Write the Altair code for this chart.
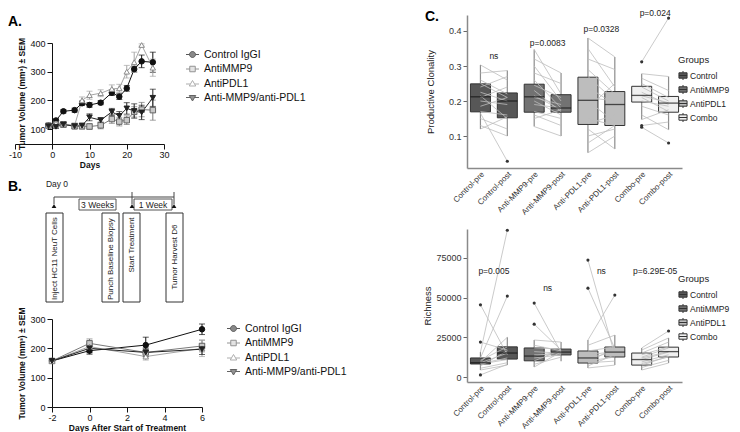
import altair as alt
import pandas as pd

FONT = "Liberation Sans"
W, H = 724, 424  # drawing canvas (page minus the 8px margin)

# ---------------- Panel A / B data ----------------
SERIES = ["Control IgGI", "AntiMMP9", "AntiPDL1", "Anti-MMP9/anti-PDL1"]

days_a = [-1, 1, 3, 6, 8, 10, 13, 16, 18, 20, 22, 24, 27]
a_control = [112, 130, 162, 166, 190, 184, 192, 227, 213, 242, 309, 336, 333]
a_control_sem = [5, 6, 6, 7, 8, 8, 7, 10, 10, 10, 10, 22, 35]
a_mmp9 = [112, 116, 116, 110, 110, 109, 113, 135, 126, 131, 160, 168, 166]
a_mmp9_sem = [5, 8, 10, 10, 10, 10, 12, 15, 15, 15, 18, 25, 35]
a_pdl1 = [112, 120, 118, 113, 200, 218, 225, 240, 242, 300, 333, 393, 314]
a_pdl1_sem = [5, 6, 8, 8, 12, 14, 12, 14, 14, 22, 35, 4, 30]
a_combo = [110, 108, 116, 110, 112, 141, 131, 160, 146, 172, 163, 158, 209]
a_combo_sem = [5, 6, 8, 8, 8, 12, 8, 12, 15, 20, 25, 25, 30]

days_b = [-2, 0, 3, 6]
b_control = [157, 192, 211, 265]
b_control_sem = [5, 12, 27, 18]
b_mmp9 = [157, 217, 186, 208]
b_mmp9_sem = [5, 15, 12, 20]
b_pdl1 = [157, 206, 172, 200]
b_pdl1_sem = [5, 20, 12, 28]
b_combo = [157, 200, 186, 197]
b_combo_sem = [5, 15, 15, 18]

# ---------------- Panel C data ----------------
CATS = ["Control-pre", "Control-post", "Anti-MMP9-pre", "Anti-MMP9-post",
        "Anti-PDL1-pre", "Anti-PDL1-post", "Combo-pre", "Combo-post"]
CAT_GROUP = ["Control", "Control", "AntiMMP9", "AntiMMP9",
             "AntiPDL1", "AntiPDL1", "Combo", "Combo"]
GROUPS = ["Control", "AntiMMP9", "AntiPDL1", "Combo"]

clon_q1 = [0.169, 0.152, 0.168, 0.168, 0.133, 0.130, 0.197, 0.168]
clon_med = [0.212, 0.200, 0.212, 0.180, 0.202, 0.190, 0.216, 0.194]
clon_q3 = [0.249, 0.223, 0.248, 0.218, 0.268, 0.227, 0.242, 0.213]
clon_lo = [0.120, 0.100, 0.127, 0.100, 0.052, 0.063, 0.147, 0.118]
clon_hi = [0.303, 0.287, 0.347, 0.280, 0.380, 0.326, 0.278, 0.270]
clon_out_cat = ["Control-post", "Combo-pre", "Combo-pre", "Combo-pre", "Combo-post", "Combo-post"]
clon_out_val = [0.028, 0.312, 0.130, 0.125, 0.437, 0.080]
clon_pre = {
    "Control": [0.303, 0.28, 0.26, 0.25, 0.24, 0.225, 0.215, 0.21, 0.2, 0.185, 0.17, 0.165, 0.15, 0.13, 0.12],
    "AntiMMP9": [0.347, 0.32, 0.3, 0.28, 0.26, 0.245, 0.23, 0.215, 0.21, 0.2, 0.19, 0.17, 0.16, 0.15, 0.127],
    "AntiPDL1": [0.38, 0.35, 0.32, 0.29, 0.27, 0.24, 0.21, 0.2, 0.18, 0.15, 0.135, 0.12, 0.1, 0.08, 0.052],
    "Combo": [0.312, 0.278, 0.265, 0.25, 0.24, 0.225, 0.215, 0.21, 0.2, 0.185, 0.16, 0.147, 0.13, 0.125],
}
clon_post = {
    "Control": [0.26, 0.287, 0.22, 0.21, 0.27, 0.2, 0.15, 0.24, 0.19, 0.21, 0.16, 0.028, 0.12, 0.1, 0.155],
    "AntiMMP9": [0.22, 0.28, 0.2, 0.25, 0.18, 0.21, 0.17, 0.175, 0.19, 0.16, 0.18, 0.15, 0.13, 0.175, 0.1],
    "AntiPDL1": [0.326, 0.24, 0.29, 0.22, 0.2, 0.19, 0.2, 0.14, 0.25, 0.13, 0.16, 0.063, 0.12, 0.13, 0.1],
    "Combo": [0.437, 0.27, 0.23, 0.21, 0.2, 0.19, 0.195, 0.17, 0.185, 0.16, 0.118, 0.175, 0.14, 0.08],
}
clon_ann_cat = ["Control-pre", "Anti-MMP9-pre", "Anti-PDL1-pre", "Combo-pre"]
clon_ann_val = [0.329, 0.366, 0.406, 0.451]
clon_ann_txt = ["ns", "p=0.0083", "p=0.0328", "p=0.024"]

rich_q1 = [8200, 11300, 10200, 13900, 8800, 12600, 7500, 12600]
rich_med = [9000, 15100, 13200, 15700, 12000, 15700, 11000, 16000]
rich_q3 = [12000, 19000, 18300, 17600, 16400, 18900, 15100, 18800]
rich_lo = [4400, 7500, 6300, 10000, 5700, 7500, 4400, 8800]
rich_hi = [15700, 25000, 23300, 22000, 23300, 26400, 18300, 24600]
rich_out_cat = ["Control-pre", "Control-pre", "Control-pre", "Control-post", "Control-post",
                "Anti-MMP9-pre", "Anti-MMP9-pre", "Anti-PDL1-pre", "Anti-PDL1-pre",
                "Anti-PDL1-post", "Combo-post"]
rich_out_val = [45500, 22000, 1300, 92500, 51000, 46600, 33300, 73700, 56000, 51600, 29000]
rich_pre = {
    "Control": [45500, 22000, 1300, 15700, 12000, 10500, 9500, 9000, 8500, 8200, 7000, 5500, 4400],
    "AntiMMP9": [46600, 33300, 23300, 20000, 18300, 16000, 14000, 13200, 12000, 10200, 8000, 6300],
    "AntiPDL1": [73700, 56000, 23300, 20000, 16400, 14000, 12000, 10000, 8800, 7000, 5700, 9000],
    "Combo": [18300, 17000, 15100, 14000, 12500, 12000, 11000, 9500, 8500, 7500, 6000, 4400],
}
rich_post = {
    "Control": [14000, 17000, 8000, 92500, 51000, 19000, 25000, 15000, 12000, 11000, 16500, 9000, 7500],
    "AntiMMP9": [15500, 17000, 22000, 16500, 17600, 15000, 14000, 16000, 13900, 17000, 12500, 15800],
    "AntiPDL1": [14000, 18000, 51600, 26400, 19000, 16000, 15700, 12600, 18900, 14000, 7500, 10000],
    "Combo": [29000, 24600, 22000, 19000, 18300, 16000, 15700, 14000, 12600, 13000, 10500, 8800],
}
rich_ann_cat = ["Control-pre", "Anti-MMP9-pre", "Anti-PDL1-pre", "Combo-pre"]
rich_ann_val = [66800, 56100, 66800, 66800]
rich_ann_txt = ["p=0.005", "ns", "ns", "p=6.29E-05"]

# ---------------- Panel B schematic (layout units) ----------------
tl_box_x = [46, 102, 123, 166]
tl_box_x2 = [63, 119, 140, 183]
tl_box_y = [213, 213, 213, 213]
tl_box_y2 = [302, 302, 302, 302]
tl_box_txt = ["Inject HC11 NeuT Cells", "Punch Baseline Biopsy", "Start Treatment", "Tumor Harvest D6"]
tl_week_x = [79, 134]
tl_week_x2 = [116, 172]
tl_week_y = [199, 199]
tl_week_y2 = [210, 210]
tl_week_txt = ["3 Weeks", "1 Week"]
tl_rule_x = [54, 54, 132, 174]
tl_rule_x2 = [174, 54, 132, 174]
tl_rule_y = [197, 197, 192, 192]
tl_rule_y2 = [197, 204, 204, 204]
tl_arrow_x = [54, 132, 174]
tl_arrow_y = [206, 206, 206]

# ---------------- styles ----------------
LINE_COLORS = ["#111111", "#7a7a7a", "#a5a5a5", "#222222"]
MARK_FILL = ["#111111", "#c8c8c8", "#ffffff", "#222222"]
MARK_STROKE = ["#111111", "#666666", "#8c8c8c", "#222222"]
MARK_SHAPE = ["circle", "square", "triangle-up", "triangle-down"]
LEG_PATHS = [
    "M-1.3,0H-0.6M0.6,0H1.3M0.6,0A0.6,0.6,0,1,1,-0.6,0A0.6,0.6,0,1,1,0.6,0Z",
    "M-1.3,0H-0.55M0.55,0H1.3M-0.55,-0.55H0.55V0.55H-0.55Z",
    "M-1.3,0.1H-0.45M0.45,0.1H1.3M0,-0.6L0.65,0.5H-0.65Z",
    "M-1.3,-0.1H-0.45M0.45,-0.1H1.3M0,0.6L0.65,-0.5H-0.65Z",
]
GROUP_FILL = ["#575757", "#727272", "#bdbdbd", "#f0f0f0"]
BOX_GLYPH = "M0,-1V-0.6M0,0.6V1M-0.9,-0.6H0.9V0.6H-0.9ZM-0.9,0H0.9"
MINUS_FIX = "replace(datum.label, '\u2212', '-')"


def growth_layers(days, means, sems, xdom, xrange, xticks, ydom, yrange, yticks,
                  xtitle, yaxis_px, leg_x, leg_y):
    rows = []
    for s, m_list, e_list in zip(SERIES, means, sems):
        for d, m, e in zip(days, m_list, e_list):
            rows.append({"series": s, "day": d, "mean": m, "lo": m - e, "hi": m + e,
                         "hidden": -100000})
    df = pd.DataFrame(rows)
    base = alt.Chart(df)
    xs = alt.Scale(domain=xdom, range=xrange, nice=False, zero=False)
    ys = alt.Scale(domain=ydom, range=yrange, nice=False, zero=False)
    xax = alt.Axis(orient="bottom", offset=-(H - yrange[0]), values=xticks, title=xtitle,
                   grid=False, tickSize=5, labelOverlap=False, labelFontSize=9,
                   titleFontSize=8.5, titleFontWeight="bold", labelColor="#111",
                   titleColor="#111", domainColor="#111", tickColor="#111", labelPadding=1,
                   titlePadding=1, labelFlush=False, labelExpr=MINUS_FIX)
    yax = alt.Axis(orient="left", offset=-yaxis_px, values=yticks,
                   title="Tumor Volume (mm³) ± SEM", grid=False, labelOverlap=False,
                   tickSize=5, labelFontSize=9, titleFontSize=8.5,
                   titleFontWeight="bold", labelColor="#111", titleColor="#111",
                   domainColor="#111", tickColor="#111", labelPadding=2,
                   titlePadding=3, labelFlush=False)

    def X():
        return alt.X("day:Q", scale=xs, axis=xax)

    def Y(f):
        return alt.Y(f + ":Q", scale=ys, axis=yax)

    layers = []
    for s, lc in zip(SERIES, LINE_COLORS):
        sb = base.transform_filter(alt.datum.series == s)
        layers.append(sb.mark_line(strokeWidth=1, color=lc).encode(x=X(), y=Y("mean")))
        layers.append(sb.mark_rule(strokeWidth=1, color=lc).encode(x=X(), y=Y("lo"), y2="hi:Q"))
        layers.append(sb.mark_tick(orient="horizontal", size=6, thickness=1, color=lc).encode(
            x=X(), y=Y("lo")))
        layers.append(sb.mark_tick(orient="horizontal", size=6, thickness=1, color=lc).encode(
            x=X(), y=Y("hi")))
    for s, sh, f, st in zip(SERIES, MARK_SHAPE, MARK_FILL, MARK_STROKE):
        layers.append(base.transform_filter(alt.datum.series == s).mark_point(
            shape=sh, filled=True, fill=f, stroke=st, strokeWidth=1, size=30, opacity=1
        ).encode(x=X(), y=Y("mean")))
    leg = alt.Legend(orient="none", legendX=leg_x, legendY=leg_y, title=None,
                     labelFont=FONT, labelFontSize=10.5, labelColor="#111",
                     symbolSize=100, symbolStrokeWidth=1, rowPadding=3.5, labelOffset=6)
    # legend-only layer: its points lie far outside the canvas and are clipped
    layers.append(base.mark_point(clip=True, strokeWidth=1).encode(
        x=X(), y=Y("hidden"),
        shape=alt.Shape("series:N", scale=alt.Scale(domain=SERIES, range=LEG_PATHS), legend=leg),
        fill=alt.Fill("series:N", scale=alt.Scale(domain=SERIES, range=MARK_FILL), legend=leg),
        stroke=alt.Stroke("series:N", scale=alt.Scale(domain=SERIES, range=MARK_STROKE), legend=leg),
    ))
    return alt.layer(*layers)


def box_layers(q1, med, q3, lo, hi, pre, post, out_cat, out_val, ann_cat, ann_val, ann_txt,
               ydom, yrange, yticks, yfmt, ytitle, title_pad, leg_x, leg_y, xrange):
    dfb = pd.DataFrame({"cat": CATS, "group": CAT_GROUP, "q1": q1, "med": med,
                        "q3": q3, "lo": lo, "hi": hi})
    prow = []
    for gi, g in enumerate(GROUPS):
        for i, (a, b) in enumerate(zip(pre[g], post[g])):
            prow.append({"pid": f"{g}{i}", "cat": CATS[2 * gi], "value": a})
            prow.append({"pid": f"{g}{i}", "cat": CATS[2 * gi + 1], "value": b})
    dfp = pd.DataFrame(prow)
    dfo = pd.DataFrame({"cat": out_cat, "value": out_val})
    dfa = pd.DataFrame({"cat": ann_cat, "value": ann_val, "txt": ann_txt})
    half_band = (xrange[1] - xrange[0]) / len(CATS) / 2

    xs = alt.Scale(type="band", domain=CATS, range=xrange, paddingInner=0, paddingOuter=0)
    xax = alt.Axis(orient="bottom", offset=-(H - yrange[0]), title=None, labelAngle=-45,
                   labelFontSize=8, labelColor="#333333", ticks=False, domainColor="#8a8a8a",
                   domainWidth=1.5, labelPadding=2, labelOverlap=False)
    ys = alt.Scale(domain=ydom, range=yrange, nice=False, zero=False)
    yax = alt.Axis(orient="left", offset=-xrange[0], values=yticks, format=yfmt, title=ytitle,
                   grid=False, labelOverlap=False, labelFontSize=9, labelColor="#333333",
                   titleFontSize=9.5, titleFontWeight="normal", titleColor="#222222",
                   domainColor="#8a8a8a", domainWidth=1.5, tickColor="#666666", tickSize=4,
                   labelPadding=2, titlePadding=title_pad)

    def X():
        return alt.X("cat:N", scale=xs, sort=CATS, axis=xax)

    def Y(f):
        return alt.Y(f + ":Q", scale=ys, axis=yax)

    whisk = alt.Chart(dfb).mark_rule(color="#8c8c8c", strokeWidth=1.2).encode(
        x=X(), y=Y("lo"), y2="hi:Q")
    leg = alt.Legend(orient="none", legendX=leg_x, legendY=leg_y, title="Groups",
                     titleFont=FONT, titleFontSize=9.5, titleFontWeight="normal",
                     titleColor="#222", titlePadding=6, labelFont=FONT, labelFontSize=8.5,
                     labelColor="#222", symbolType=BOX_GLYPH, symbolSize=81,
                     symbolStrokeColor="#333", symbolStrokeWidth=1, rowPadding=0,
                     labelOffset=2)
    box = alt.Chart(dfb).mark_bar(size=20, stroke="#333", strokeWidth=1).encode(
        x=X(), y=Y("q1"), y2="q3:Q",
        fill=alt.Fill("group:N", scale=alt.Scale(domain=GROUPS, range=GROUP_FILL), legend=leg))
    lines = alt.Chart(dfp).mark_line(color="#bdbdbd", strokeWidth=0.8).encode(
        x=X(), y=Y("value"), detail="pid:N")
    median = alt.Chart(dfb).mark_tick(orient="horizontal", size=20, thickness=1.3,
                                      color="#111").encode(x=X(), y=Y("med"))
    outl = alt.Chart(dfo).mark_circle(size=10, color="#333", opacity=1).encode(
        x=X(), y=Y("value"))
    ann = alt.Chart(dfa).mark_text(dx=half_band, fontSize=8.5, color="#222",
                                   baseline="middle").encode(
        x=X(), y=Y("value"), text="txt:N")
    return alt.layer(whisk, box, lines, median, outl, ann)


def schematic_layers():
    # layout units are page pixels; the scales map them onto the canvas
    DX = alt.Scale(domain=[15, 190], range=[7, 182], nice=False, zero=False)
    DY = alt.Scale(domain=[178, 305], range=[170, 297], nice=False, zero=False)
    bx = pd.DataFrame({"x": tl_box_x, "x2": tl_box_x2, "y": tl_box_y, "y2": tl_box_y2,
                       "t": tl_box_txt})
    bx["xc"] = (bx["x"] + bx["x2"]) / 2
    wk = pd.DataFrame({"x": tl_week_x, "x2": tl_week_x2, "y": tl_week_y, "y2": tl_week_y2,
                       "t": tl_week_txt})
    wk["xc"] = (wk["x"] + wk["x2"]) / 2
    wk["yc"] = (wk["y"] + wk["y2"]) / 2
    ru = pd.DataFrame({"x": tl_rule_x, "x2": tl_rule_x2, "y": tl_rule_y, "y2": tl_rule_y2})
    ar = pd.DataFrame({"x": tl_arrow_x, "y": tl_arrow_y})

    def XQ(f):
        return alt.X(f + ":Q", scale=DX, axis=None)

    def YQ(f):
        return alt.Y(f + ":Q", scale=DY, axis=None)

    rects = alt.Chart(bx).mark_rect(fill="white", stroke="#333", strokeWidth=1).encode(
        x=XQ("x"), x2="x2:Q", y=YQ("y"), y2="y2:Q")
    wrects = alt.Chart(wk).mark_rect(fill="white", stroke="#555", strokeWidth=1).encode(
        x=XQ("x"), x2="x2:Q", y=YQ("y"), y2="y2:Q")
    wtext = alt.Chart(wk).mark_text(fontSize=8.5, color="#222", baseline="middle").encode(
        x=XQ("xc"), y=YQ("yc"), text="t:N")
    rules = alt.Chart(ru).mark_rule(color="#444", strokeWidth=1).encode(
        x=XQ("x"), x2="x2:Q", y=YQ("y"), y2="y2:Q")
    arrows = alt.Chart(ar).mark_point(shape="triangle-up", filled=True, color="#111",
                                      size=22, opacity=1).encode(x=XQ("x"), y=YQ("y"))
    bottom_txt = alt.Chart(bx.iloc[:2]).transform_calculate(yb="300").mark_text(
        angle=270, align="left", baseline="middle", fontSize=8, color="#222").encode(
        x=XQ("xc"), y=YQ("yb"), text="t:N")
    start_txt = alt.Chart(bx.iloc[2:3]).transform_calculate(ym="245").mark_text(
        angle=270, align="center", baseline="middle", fontSize=8, color="#222").encode(
        x=XQ("xc"), y=YQ("ym"), text="t:N")
    harv_txt = alt.Chart(bx.iloc[3:]).transform_calculate(ym="257").mark_text(
        angle=270, align="center", baseline="middle", fontSize=8, color="#222").encode(
        x=XQ("xc"), y=YQ("ym"), text="t:N")
    day0 = alt.Chart(pd.DataFrame({"x": [57], "y": [184], "t": ["Day 0"]})).mark_text(
        fontSize=8.5, color="#222", baseline="middle").encode(x=XQ("x"), y=YQ("y"), text="t:N")
    return alt.layer(rects, wrects, rules, arrows, wtext, bottom_txt, start_txt, harv_txt, day0)


def panel_label(t, x, y):
    return alt.Chart(pd.DataFrame({"t": [t]})).mark_text(
        align="left", baseline="top", fontSize=14, fontWeight="bold", color="#000"
    ).encode(x=alt.value(x), y=alt.value(y), text="t:N")


# canvas coordinates = page pixels minus the 8px page margin
panelA = growth_layers(days_a, [a_control, a_mmp9, a_pdl1, a_combo],
                       [a_control_sem, a_mmp9_sem, a_pdl1_sem, a_combo_sem],
                       [-10, 30], [7, 156], [-10, 0, 10, 20, 30],
                       [48, 400], [136, 35], [100, 200, 300, 400], "Days", 44, 179, 41)
panelB = growth_layers(days_b, [b_control, b_mmp9, b_pdl1, b_combo],
                       [b_control_sem, b_mmp9_sem, b_pdl1_sem, b_combo_sem],
                       [-2, 6], [44, 194], [-2, 0, 2, 4, 6],
                       [0, 300], [399, 311], [0, 100, 200, 300],
                       "Days After Start of Treatment", 44, 220, 315)
panelC1 = box_layers(clon_q1, clon_med, clon_q3, clon_lo, clon_hi, clon_pre, clon_post,
                     clon_out_cat, clon_out_val, clon_ann_cat, clon_ann_val, clon_ann_txt,
                     [0.0086, 0.4457], [160, 7], [0.1, 0.2, 0.3, 0.4], ".1f",
                     "Productive Clonality", 13, 670, 47, [459, 674])
panelC2 = box_layers(rich_q1, rich_med, rich_q3, rich_lo, rich_hi, rich_pre, rich_post,
                     rich_out_cat, rich_out_val, rich_ann_cat, rich_ann_val, rich_ann_txt,
                     [-3150, 93270], [374, 221], [0, 25000, 50000, 75000], "d",
                     "Richness", 3, 670, 266, [459, 674])

chart = alt.layer(
    panelA, schematic_layers(), panelB, panelC1, panelC2,
    panel_label("A.", 0, 7), panel_label("B.", 0, 172), panel_label("C.", 417, 2),
).resolve_scale(
    x="independent", y="independent", fill="independent", stroke="independent",
    shape="independent", color="independent"
).resolve_axis(x="independent", y="independent").resolve_legend(
    fill="independent", stroke="independent", shape="independent", color="independent"
).properties(
    width=W, height=H, autosize=alt.AutoSizeParams(type="none"),
    padding={"left": 0, "top": 0, "right": 0, "bottom": 0}
).configure(font=FONT).configure_view(stroke=None)

chart.save("out.html", embed_options={"renderer": "svg", "actions": False})
